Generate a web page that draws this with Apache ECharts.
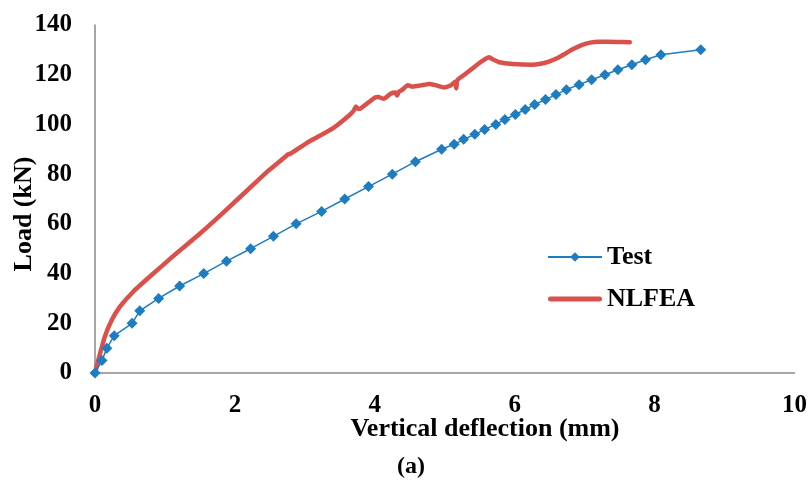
<!DOCTYPE html>
<html>
<head>
<meta charset="utf-8">
<script src="https://cdn.jsdelivr.net/npm/echarts@6/dist/echarts.min.js"></script>
<style>
  html, body { margin: 0; padding: 0; background: #fff; }
  #chart { width: 810px; height: 482px; }
</style>
</head>
<body>
<div id="chart"></div>
<script>
// Load–deflection response: measured test points and the NLFEA prediction
const xTicks = [0, 2, 4, 6, 8, 10];
const yTicks = [0, 20, 40, 60, 80, 100, 120, 140];

const testDeflection = [0, 0.1, 0.17, 0.275, 0.53, 0.64, 0.91, 1.21, 1.555, 1.88, 2.225, 2.55, 2.875,
  3.24, 3.57, 3.91, 4.25, 4.58, 4.955, 5.135, 5.27, 5.43, 5.57, 5.73, 5.86, 6.01, 6.15, 6.285,
  6.44, 6.59, 6.74, 6.92, 7.1, 7.29, 7.475, 7.675, 7.87, 8.09, 8.66];
const testLoad = [0, 5, 10, 15, 20, 25, 30, 35, 40, 45, 50, 55, 60,
  65, 70, 75, 80, 85, 90, 92, 94, 96, 98, 100, 102, 104, 106, 108,
  110, 112, 114, 116, 118, 120, 122, 124, 126, 128, 130];

const nlfeaDeflection = [0, 0.047, 0.14, 0.24, 0.357, 0.546, 0.785, 1.117, 1.498, 1.83,
  2.31, 2.496, 2.72, 2.757, 2.80, 3.02, 3.40, 3.64, 3.70, 3.73, 3.76, 3.80,
  3.99, 4.05, 4.13, 4.23, 4.30, 4.32, 4.34, 4.40, 4.47, 4.54, 4.66, 4.78, 4.87, 4.99, 5.09,
  5.15, 5.165, 5.18, 5.28, 5.40, 5.49, 5.58, 5.635, 5.70, 5.78, 5.97, 6.25, 6.35, 6.49, 6.62,
  6.73, 6.85, 6.965, 7.08, 7.2, 7.45, 7.645];
const nlfeaLoad = [0, 5.2, 14.6, 21.3, 26.7, 32.7, 38.8, 47.0, 56.0, 64.4,
  77.0, 81.8, 87.0, 87.9, 88.3, 92.4, 98.4, 103.8, 105.6, 107.2, 106.3, 106.5,
  110.6, 111.0, 110.3, 112.4, 112.8, 111.6, 113.0, 114.1, 115.8, 115.2, 115.7, 116.3, 115.8, 114.9, 115.8,
  117.2, 114.5, 117.8, 120.0, 122.6, 124.6, 126.3, 127.0, 126.0, 125.0, 124.3, 124.0, 124.3, 125.3, 126.8,
  128.6, 130.5, 132.0, 132.9, 133.3, 133.2, 133.1];

const pairs = (xs, ys) => xs.map((x, i) => [x, ys[i]]);

const FONT = "'Liberation Serif', 'Times New Roman', serif";
const BLUE = '#1e7cc1';
const RED = '#d9514a';
const AXIS = '#898989';

const chart = echarts.init(document.getElementById('chart'), null, { renderer: 'canvas' });

chart.setOption({
  backgroundColor: '#ffffff',
  animation: false,
  grid: { left: 95, right: 14, top: 25, bottom: 109, containLabel: false },
  xAxis: {
    type: 'value',
    min: xTicks[0],
    max: xTicks[xTicks.length - 1],
    interval: xTicks[1] - xTicks[0],
    axisLine: { show: true, lineStyle: { color: AXIS, width: 1.5 } },
    axisTick: { show: false },
    splitLine: { show: false },
    axisLabel: { margin: 20, color: '#000', fontFamily: FONT, fontWeight: 'bold', fontSize: 25 }
  },
  yAxis: {
    type: 'value',
    min: yTicks[0],
    max: yTicks[yTicks.length - 1],
    interval: yTicks[1] - yTicks[0],
    axisLine: { show: true, lineStyle: { color: AXIS, width: 1.5 } },
    axisTick: { show: false },
    splitLine: { show: false },
    axisLabel: { margin: 23, color: '#000', fontFamily: FONT, fontWeight: 'bold', fontSize: 25 }
  },
  legend: {
    orient: 'vertical',
    left: 547,
    top: 244,
    padding: 0,
    itemWidth: 54,
    itemHeight: 12,
    itemGap: 16,
    textStyle: { color: '#000', fontFamily: FONT, fontWeight: 'bold', fontSize: 26, lineHeight: 26 },
    data: [
      { name: 'Test' },
      { name: 'NLFEA', icon: 'path://M2.5,0 L51.5,0 A2.5,2.5 0 0 1 51.5,5 L2.5,5 A2.5,2.5 0 0 1 2.5,0 Z' }
    ]
  },
  graphic: [
    {
      type: 'text', x: 24, y: 214, rotation: Math.PI / 2,
      style: { text: 'Load (kN)', align: 'center', verticalAlign: 'middle',
        font: 'bold 26px ' + FONT, fill: '#000' }
    },
    {
      type: 'text', x: 485, y: 429,
      style: { text: 'Vertical deflection (mm)', align: 'center', verticalAlign: 'middle',
        font: 'bold 26px ' + FONT, fill: '#000' }
    },
    {
      type: 'text', x: 411, y: 467,
      style: { text: '(a)', align: 'center', verticalAlign: 'middle',
        font: 'bold 24px ' + FONT, fill: '#000' }
    }
  ],
  series: [
    {
      name: 'Test',
      type: 'line',
      data: pairs(testDeflection, testLoad),
      symbol: 'diamond',
      symbolSize: 11,
      itemStyle: { color: BLUE },
      lineStyle: { color: BLUE, width: 1.5 },
      z: 3
    },
    {
      name: 'NLFEA',
      type: 'line',
      data: pairs(nlfeaDeflection, nlfeaLoad),
      symbol: 'none',
      smooth: 0.15,
      itemStyle: { color: RED },
      lineStyle: { color: RED, width: 4.5, cap: 'round', join: 'round' },
      z: 2
    }
  ]
});
</script>
</body>
</html>
